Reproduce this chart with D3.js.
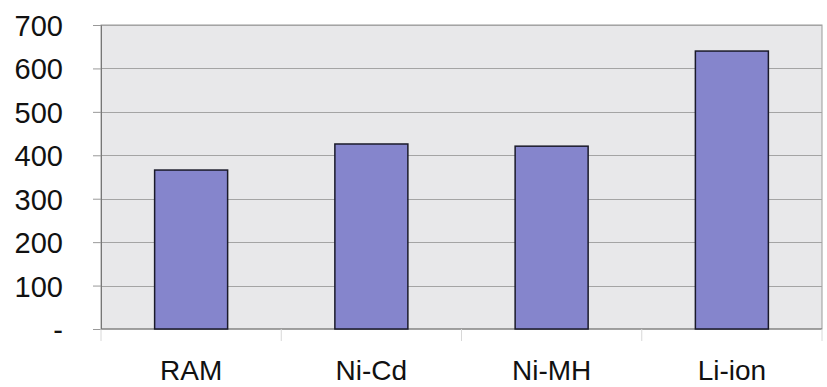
<!DOCTYPE html>
<html>
<head>
<meta charset="utf-8">
<script src="https://cdn.jsdelivr.net/npm/d3@7"></script>
<style>
  body { margin: 0; background: #fff; }
  svg text { font-family: "Liberation Sans", Arial, sans-serif; fill: #111; }
</style>
</head>
<body>
<svg width="827" height="387"></svg>
<script>
var categories = ["RAM", "Ni-Cd", "Ni-MH", "Li-ion"];
var values = [366, 426, 421, 640];
var yTicks = [0, 100, 200, 300, 400, 500, 600, 700];

var svg = d3.select("svg");

var margin = { top: 25, right: 5, bottom: 58, left: 101 },
    width = +svg.attr("width") - margin.left - margin.right,
    height = +svg.attr("height") - margin.top - margin.bottom;

var g = svg.append("g")
    .attr("transform", `translate(${margin.left}, ${margin.top})`);

var x = d3.scaleBand()
    .domain(categories)
    .range([0, width])
    .paddingInner(0.595)
    .paddingOuter(0.2975);

var y = d3.scaleLinear()
    .domain([0, 700])
    .range([height, 0]);

// plot background
g.append("rect")
    .attr("width", width)
    .attr("height", height)
    .attr("fill", "#e8e8ea")
    .attr("stroke", "#9a9a9a");

// gridlines
g.append("g")
    .selectAll("line")
    .data(yTicks.slice(1))
    .enter().append("line")
        .attr("x1", 0)
        .attr("x2", width)
        .attr("y1", d => Math.round(y(d)) + 0.5)
        .attr("y2", d => Math.round(y(d)) + 0.5)
        .attr("stroke", "#a4a4a4");

// y axis
var yAxis = d3.axisLeft(y)
    .tickValues(yTicks)
    .tickSize(8)
    .tickPadding(30)
    .tickFormat(d => d === 0 ? "-" : d);

var ya = g.append("g")
    .attr("class", "axis y")
    .call(yAxis);
ya.select(".domain").attr("stroke", "#777");
ya.selectAll(".tick line").attr("stroke", "#999");
ya.selectAll("text")
    .attr("font-size", 29)
    .attr("fill", "#111")
    .attr("dy", "0.36em");

// x axis with ticks at category boundaries
var step = x.step();
var xa = g.append("g")
    .attr("transform", `translate(0, ${height})`);
xa.append("line")
    .attr("x1", 0).attr("x2", width)
    .attr("stroke", "#777");
xa.selectAll("line.tk")
    .data(d3.range(categories.length + 1))
    .enter().append("line")
        .attr("class", "tk")
        .attr("x1", i => i * step)
        .attr("x2", i => i * step)
        .attr("y1", 0)
        .attr("y2", 12)
        .attr("stroke", "#d8d8d8");
xa.selectAll("text")
    .data(categories)
    .enter().append("text")
        .attr("x", d => x(d) + x.bandwidth() / 2)
        .attr("y", 51)
        .attr("text-anchor", "middle")
        .attr("font-size", 28)
        .text(d => d);

// bars
g.append("g")
    .selectAll("rect")
    .data(values)
    .enter().append("rect")
        .attr("x", (d, i) => x(categories[i]))
        .attr("y", d => y(d))
        .attr("width", x.bandwidth())
        .attr("height", d => height - y(d))
        .attr("fill", "#8585cc")
        .attr("stroke", "#1a1a2a")
        .attr("stroke-width", 1.5);
</script>
</body>
</html>
